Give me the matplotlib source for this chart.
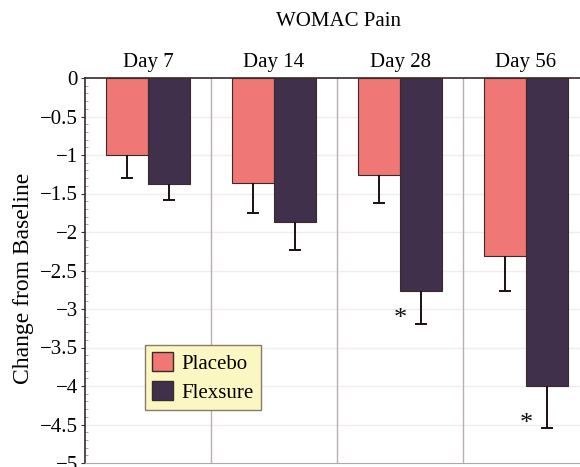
import matplotlib.pyplot as plt
import numpy as np
from matplotlib.ticker import MultipleLocator, FuncFormatter
from matplotlib.patches import Patch

plt.rcParams['font.family'] = ['Liberation Serif', 'DejaVu Serif']

days = ['Day 7', 'Day 14', 'Day 28', 'Day 56']
placebo = [-1.0, -1.36, -1.26, -2.31]
placebo_err = [0.30, 0.39, 0.36, 0.46]
flexsure = [-1.38, -1.87, -2.77, -4.0]
flexsure_err = [0.20, 0.36, 0.42, 0.55]
signif = [False, False, True, True]

c_plac = '#ef7776'
c_flex = '#41304c'
edge = '#3a2a2a'

fig = plt.figure(figsize=(5.8, 4.67), dpi=100)
ax = fig.add_axes([85/580, 4/467, 504/580, 385/467])

x = np.arange(len(days))
w = 1/3
ax.bar(x - w/2, placebo, w, color=c_plac, edgecolor=edge, linewidth=0.8, zorder=3)
ax.bar(x + w/2, flexsure, w, color=c_flex, edgecolor=edge, linewidth=0.8, zorder=3)

# one-sided error bars, downward only
for pos, vals, errs in [(x - w/2, placebo, placebo_err), (x + w/2, flexsure, flexsure_err)]:
    lo = np.array(vals) - np.array(errs)
    ax.vlines(pos, lo, vals, color='#1a1010', lw=1.4, zorder=4)
    ax.plot(pos, lo, ls='none', marker='_', markersize=8, mew=1.4, color='#1a1010', zorder=4)

for i, s in enumerate(signif):
    if s:
        ax.text(x[i] + w/2 - 0.16, flexsure[i] - flexsure_err[i] + 0.06, '*',
                ha='center', va='center', fontsize=19, color='#111111')

ax.set_xlim(-0.5, 3.5)
ax.set_ylim(-5, 0)
for xv in [0.5, 1.5, 2.5]:
    ax.axvline(xv, color='#b8b0b0', lw=1.0, zorder=1)
for yv in np.arange(-4.5, 0, 0.5):
    ax.axhline(yv, color='#f2ecec', lw=1.0, zorder=0)

ax.xaxis.tick_top()
ax.set_xticks(x)
ax.set_xticklabels(days, fontsize=15)
ax.tick_params(axis='x', length=0, pad=4)
ax.yaxis.set_major_locator(MultipleLocator(0.5))
ax.yaxis.set_minor_locator(MultipleLocator(0.1))
ax.yaxis.set_major_formatter(FuncFormatter(lambda v, p: ('%g' % v).replace('-', '\u2212')))
ax.tick_params(axis='y', which='major', labelsize=15, length=3, direction='out', color='#333333', pad=2)
ax.tick_params(axis='y', which='minor', length=2, direction='in', color='#999999')

ax.spines['top'].set_color('#3a2a2a')
ax.spines['top'].set_linewidth(1.2)
ax.spines['left'].set_color('#3a2a2a')
ax.spines['left'].set_linewidth(1.2)
ax.spines['bottom'].set_color('#b0a8a8')
ax.spines['right'].set_visible(False)

ax.set_ylabel('Change from Baseline', fontsize=17, va='center')
ax.yaxis.set_label_coords(-0.123, 0.48)
fig.text(338/580, 1 - 22/467, 'WOMAC Pain', ha='center', va='center', fontsize=15)

handles = [Patch(facecolor=c_plac, edgecolor=edge, label='Placebo'),
           Patch(facecolor=c_flex, edgecolor=edge, label='Flexsure')]
leg = ax.legend(handles=handles, loc='upper left', bbox_to_anchor=((145-85)/504, (463-345)/385),
                fontsize=15, frameon=True, fancybox=False, handlelength=1.0, handleheight=1.0,
                handletextpad=0.4, borderpad=0.35, labelspacing=0.35, borderaxespad=0)
leg.get_frame().set_facecolor('#fbf7c2')
leg.get_frame().set_edgecolor('#8a7a6a')
leg.get_frame().set_alpha(1)
leg.set_zorder(5)

fig.savefig('out.png', dpi=100)
